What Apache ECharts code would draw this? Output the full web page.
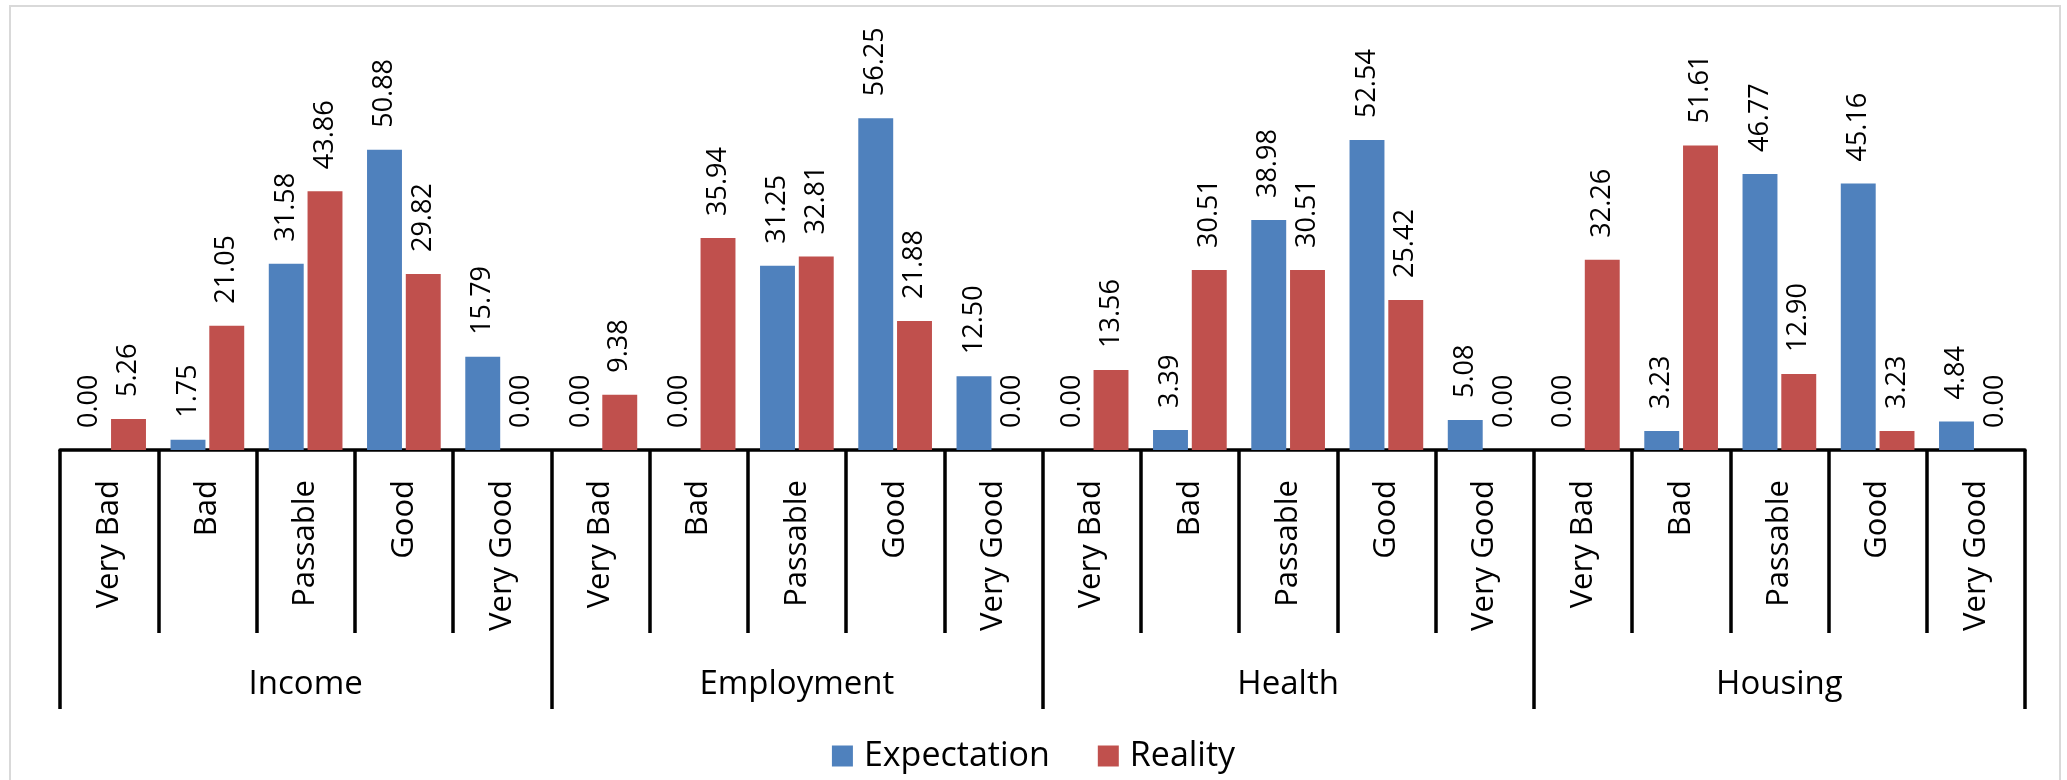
<!DOCTYPE html>
<html>
<head>
<meta charset="utf-8">
<script src="https://cdn.jsdelivr.net/npm/echarts@6/dist/echarts.min.js"></script>
<style>
  html, body { margin: 0; padding: 0; background: #fff; }
  #chart { width: 2067px; height: 780px; }
</style>
</head>
<body>
<div id="chart"></div>
<script>
// groups along the bottom, levels inside each group
const groups = ['Income', 'Employment', 'Health', 'Housing'];
const levels = ['Very Bad', 'Bad', 'Passable', 'Good', 'Very Good'];

// values per group, in level order
const expectationIncome = [0.00, 1.75, 31.58, 50.88, 15.79];
const expectationEmployment = [0.00, 0.00, 31.25, 56.25, 12.50];
const expectationHealth = [0.00, 3.39, 38.98, 52.54, 5.08];
const expectationHousing = [0.00, 3.23, 46.77, 45.16, 4.84];

const realityIncome = [5.26, 21.05, 43.86, 29.82, 0.00];
const realityEmployment = [9.38, 35.94, 32.81, 21.88, 0.00];
const realityHealth = [13.56, 30.51, 30.51, 25.42, 0.00];
const realityHousing = [32.26, 51.61, 12.90, 3.23, 0.00];

// build the flat category list (group|level keeps names unique)
const categories = [];
groups.forEach(g => levels.forEach(l => categories.push(g + '|' + l)));
const expectation = [].concat(expectationIncome, expectationEmployment, expectationHealth, expectationHousing);
const reality = [].concat(realityIncome, realityEmployment, realityHealth, realityHousing);

const font = 'Open Sans';

const barLabel = {
  show: true,
  position: 'top',
  rotate: 90,
  align: 'left',
  verticalAlign: 'middle',
  distance: 22,
  fontFamily: font,
  fontSize: 27,
  color: '#000',
  formatter: p => p.value.toFixed(2)
};

const myChart = echarts.init(document.getElementById('chart'));
const option = {
  backgroundColor: '#fff',
  animation: false,
  graphic: [{ //light frame round the chart
    type: 'rect',
    shape: { x: 10, y: 6, width: 2050, height: 800 },
    style: { fill: 'none', stroke: '#d9d9d9', lineWidth: 2 },
    silent: true
  }],
  legend: {
    data: ['Expectation', 'Reality'],
    bottom: 2,
    left: 'center',
    itemWidth: 21,
    itemHeight: 21,
    itemGap: 48,
    icon: 'rect',
    textStyle: { fontFamily: font, fontSize: 34, color: '#000', padding: [0, 0, 0, 6] }
  },
  grid: { left: 60, right: 42, top: 37, bottom: 330 },
  xAxis: [
    {
      type: 'category',
      data: categories,
      position: 'bottom',
      axisLine: { show: true, lineStyle: { color: '#000', width: 3.5 } },
      axisTick: { show: true, interval: 0, length: 183, lineStyle: { color: '#000', width: 3.5 } },
      axisLabel: {
        interval: 0,
        rotate: 90,
        margin: 30,
        fontFamily: font,
        fontSize: 31,
        color: '#000',
        formatter: v => v.split('|')[1]
      }
    },
    {
      type: 'category',
      data: groups,
      position: 'bottom',
      axisLine: { show: false },
      axisTick: { show: true, interval: 0, length: 259, lineStyle: { color: '#000', width: 3.5 } },
      axisLabel: { interval: 0, margin: 218, fontFamily: font, fontSize: 33, color: '#000' }
    }
  ],
  yAxis: { type: 'value', min: 0, max: 70, show: false, splitLine: { show: false } },
  series: [
    {
      name: 'Expectation',
      type: 'bar',
      xAxisIndex: 0,
      data: expectation,
      barGap: '11%',
      barCategoryGap: '25%',
      itemStyle: { color: '#4F81BD' },
      label: barLabel
    },
    {
      name: 'Reality',
      type: 'bar',
      xAxisIndex: 0,
      data: reality,
      itemStyle: { color: '#C0504D' },
      label: barLabel
    }
  ]
};
option && myChart.setOption(option);
</script>
</body>
</html>
